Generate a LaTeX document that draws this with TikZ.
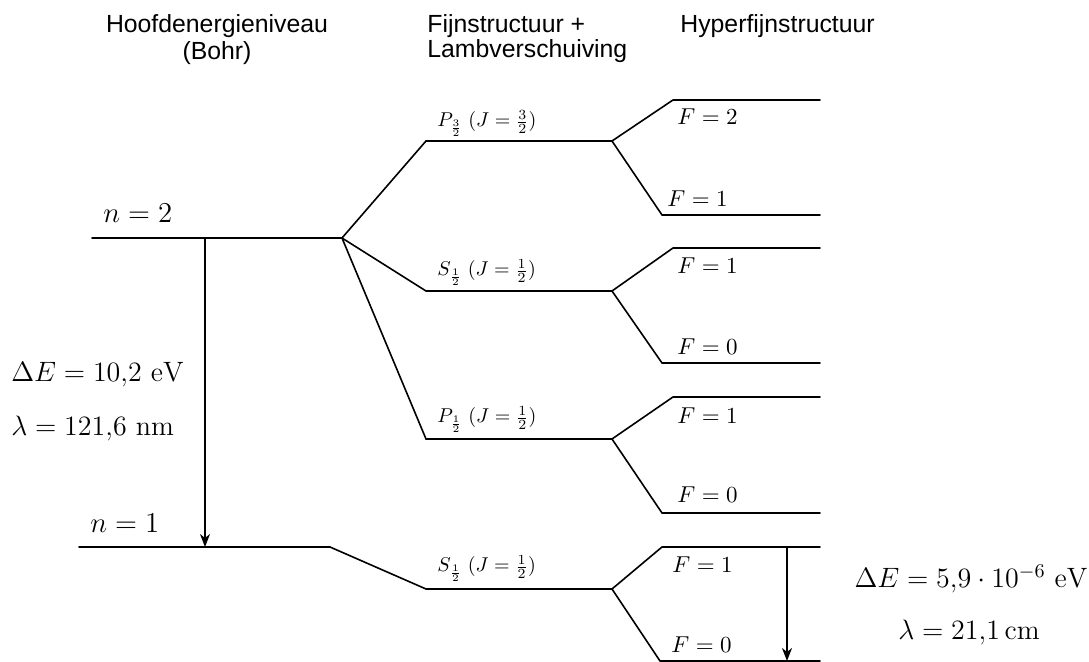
\RequirePackage{fix-cm}
\documentclass[tikz,border=0pt]{standalone}
\usepackage{fontspec}
\newfontfamily\headfont{Liberation Sans}
\usetikzlibrary{arrows.meta}

\begin{document}
\begin{tikzpicture}[x=0.5pt,y=-0.5pt,
  level/.style={line width=0.8pt, line cap=round, line join=round},
  trans/.style={line width=0.8pt, -{Stealth[length=6.5pt,width=5pt,inset=2pt]}},
  head/.style={inner sep=0pt, font=\headfont\fontsize{12.4}{14}\selectfont},
  biglbl/.style={inner sep=0pt, font=\fontsize{14}{16}\selectfont},
  nlbl/.style={inner sep=0pt, font=\fontsize{14.4}{17}\selectfont},
  finelbl/.style={inner sep=0pt, font=\fontsize{10}{12}\selectfont},
  hflbl/.style={inner sep=0pt, font=\fontsize{11.5}{13}\selectfont}]

\useasboundingbox (0,0) rectangle (1089,662);

% column headings
\node[head, anchor=base] (hoofd)  at (217,33) {Hoofdenergieniveau};
\node[head, anchor=base] (bohr)   at (217,60) {(Bohr)};
\node[head, anchor=base west] (fijn) at (427,33) {Fijnstructuur +};
\node[head, anchor=base west] (lamb) at (427,58) {Lambverschuiving};
\node[head, anchor=base west] (hyper) at (680,33) {Hyperfijnstructuur};

% Bohr levels
\coordinate (n2L) at (92,238);  \coordinate (n2R) at (342,238);
\coordinate (n1L) at (79,547);  \coordinate (n1R) at (330,547);
\draw[level] (n2L) -- (n2R);
\draw[level] (n1L) -- (n1R);

% fine-structure levels and their hyperfine splitting
\foreach \lv/\y/\yu/\yl/\xu/\xl in {p3/141/100/215/673/662, s1/291/248/363/673/662,
                                    p1/439/397/513/673/662, s0/589/547/661/662/660}{
  \coordinate (\lv L) at (426,\y);
  \coordinate (\lv R) at (612,\y);
  \coordinate (\lv uL) at (\xu,\yu);  \coordinate (\lv uR) at (820,\yu);
  \coordinate (\lv dL) at (\xl,\yl);  \coordinate (\lv dR) at (820,\yl);
  \draw[level] (\lv L) -- (\lv R);
  \draw[level] (\lv R) -- (\lv uL) -- (\lv uR);
  \draw[level] (\lv R) -- (\lv dL) -- (\lv dR);
}

% Bohr levels split into fine structure
\draw[level] (n2R) -- (p3L);
\draw[level] (n2R) -- (s1L);
\draw[level] (n2R) -- (p1L);
\draw[level] (n1R) -- (s0L);

% level labels
\node[nlbl, anchor=base west] (ln2) at (103,223) {$n=2$};
\node[nlbl, anchor=base west] (ln1) at (90,533) {$n=1$};

\node[finelbl, anchor=base west] (lp3) at (437,127) {$P_{\frac{3}{2}}\;(J=\frac{3}{2})$};
\node[finelbl, anchor=base west] (ls1) at (437,276) {$S_{\frac{1}{2}}\;(J=\frac{1}{2})$};
\node[finelbl, anchor=base west] (lp1) at (437,423) {$P_{\frac{1}{2}}\;(J=\frac{1}{2})$};
\node[finelbl, anchor=base west] (ls0) at (437,572) {$S_{\frac{1}{2}}\;(J=\frac{1}{2})$};

\node[hflbl, anchor=base west] (f32u) at (677,125) {$F=2$};
\node[hflbl, anchor=base west] (f32d) at (667,207) {$F=1$};
\node[hflbl, anchor=base west] (f12u) at (677,274) {$F=1$};
\node[hflbl, anchor=base west] (f12d) at (677,355) {$F=0$};
\node[hflbl, anchor=base west] (fp1u) at (677,424) {$F=1$};
\node[hflbl, anchor=base west] (fp1d) at (677,503) {$F=0$};
\node[hflbl, anchor=base west] (fs0u) at (672,573) {$F=1$};
\node[hflbl, anchor=base west] (fs0d) at (671,653) {$F=0$};

% transitions
\coordinate (lyA) at (205,238);
\coordinate (lyB) at (205,547);
\draw[trans] (lyA) -- (lyB);
\coordinate (hfA) at (787,547);
\coordinate (hfB) at (787,661);
\draw[trans] (hfA) -- (hfB);

\node[biglbl, anchor=base west] (lyE) at (11,382) {$\Delta E = 10{,}2\ \mathrm{eV}$};
\node[biglbl, anchor=base west] (lyL) at (11,436) {$\lambda = 121{,}6\ \mathrm{nm}$};
\node[biglbl, anchor=base] (hfE) at (971,588) {$\Delta E = 5{,}9\cdot 10^{-6}\ \mathrm{eV}$};
\node[biglbl, anchor=base] (hfL) at (969,640) {$\lambda = 21{,}1\,\mathrm{cm}$};

\end{tikzpicture}
\end{document}
